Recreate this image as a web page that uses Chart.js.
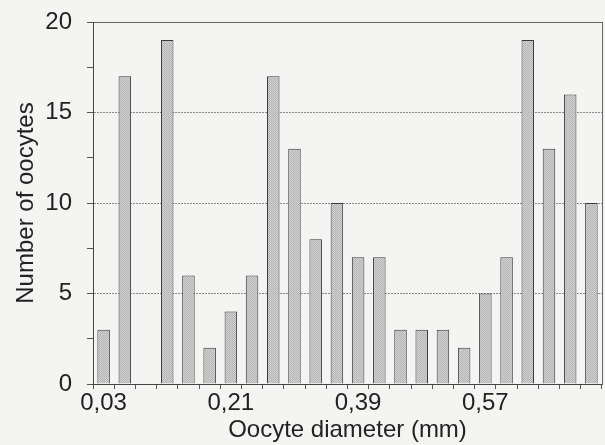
<!DOCTYPE html>
<html>
<head>
<meta charset="utf-8">
<script src="https://cdn.jsdelivr.net/npm/chart.js@4/dist/chart.umd.min.js"></script>
<style>
    html, body { margin: 0; padding: 0; background: #f4f4f2; }
    #wrap { width: 605px; height: 445px; }
</style>
</head>
<body>
<div id="wrap"><canvas id="chart-oocytes" width="605" height="445"></canvas></div>
<script>
// Data -------------------------------------
// --> Oocyte diameter classes (mm) and counts

const diameters = [0.03, 0.06, 0.09, 0.12, 0.15, 0.18, 0.21, 0.24, 0.27, 0.30, 0.33, 0.36,
                   0.39, 0.42, 0.45, 0.48, 0.51, 0.54, 0.57, 0.60, 0.63, 0.66, 0.69, 0.72]
const counts = [3, 17, 0, 19, 6, 2, 4, 6, 17, 13, 8, 10,
                7, 7, 3, 3, 3, 2, 5, 7, 19, 13, 16, 10]
const x_tick_labels = ['0,03', '0,21', '0,39', '0,57']
const y_tick_labels = [0, 5, 10, 15, 20]

// Style settings -------------------------------------

const color_text = '#222222'
const color_axis = '#444444'
const color_grid = '#8a8a8a'
const font_family = "'Liberation Sans', Arial, sans-serif"

// stippled grey fill like the printed bars
function bar_pattern() {
    const c = document.createElement('canvas')
    c.width = 2
    c.height = 2
    const g = c.getContext('2d')
    g.fillStyle = '#d0d0d0'
    g.fillRect(0, 0, 2, 2)
    g.fillStyle = '#b6b6b6'
    g.fillRect(0, 0, 1, 1)
    g.fillRect(1, 1, 1, 1)
    return g.createPattern(c, 'repeat')
}

// comma decimal like the original labels
function fmt(v) {
    return v.toFixed(2).replace('.', ',')
}

// Chart -------------------------------------

const labels = diameters.map(fmt)

const data = {
    labels: labels,
    datasets: [{
        label: 'Number of oocytes',
        data: counts,
        backgroundColor: bar_pattern(),
        borderColor: '#3a3a3a',
        borderWidth: 1,
        barPercentage: 0.59,
        categoryPercentage: 1.0,
    }]
}

const config = {
    type: 'bar',
    data: data,
    options: {
        responsive: false,
        animation: false,
        layout: {
            padding: { top: 0, right: 0, left: 0, bottom: 0 },
        },
        plugins: {
            legend: { display: false },
            tooltip: { enabled: false },
        },
        scales: {
            x: {
                offset: true,
                grid: {
                    display: true,
                    drawOnChartArea: false,
                    offset: true,
                    tickLength: 5,
                    tickColor: '#555555',
                },
                border: { color: color_axis, width: 1 },
                ticks: {
                    autoSkip: false,
                    maxRotation: 0,
                    padding: 0,
                    color: color_text,
                    font: { family: font_family, size: 24 },
                    callback: function (val, i) {
                        const lab = labels[i]
                        return x_tick_labels.includes(lab) ? lab : ''
                    },
                },
                title: {
                    display: true,
                    text: 'Oocyte diameter (mm)',
                    color: color_text,
                    padding: { top: 0, bottom: 0 },
                    font: { family: font_family, size: 24 },
                },
                // fixed band height so the plot bottom sits where the original does
                afterFit: function (scale) {
                    scale.height = 61
                },
            },
            y: {
                min: 0,
                max: 20,
                ticks: {
                    stepSize: 2.5,
                    padding: 15,
                    color: color_text,
                    font: { family: font_family, size: 24 },
                    callback: function (val) {
                        return y_tick_labels.includes(val) ? val : ''
                    },
                },
                grid: {
                    tickLength: 6,
                    tickColor: '#555555',
                    color: function (ctx) {
                        const v = ctx.tick.value
                        if (v === 0) return 'rgba(0,0,0,0)'
                        if (v === 20) return '#666666'
                        return y_tick_labels.includes(v) ? color_grid : 'rgba(0,0,0,0)'
                    },
                },
                border: {
                    color: color_axis,
                    width: 1,
                    dash: function (ctx) {
                        return ctx.tick && ctx.tick.value === 20 ? [] : [2, 1]
                    },
                },
                title: {
                    display: true,
                    text: 'Number of oocytes',
                    color: color_text,
                    padding: { top: 12, bottom: 0 },
                    font: { family: font_family, size: 24 },
                },
                // fixed width and top room (tick padding would otherwise push the plot down)
                afterFit: function (scale) {
                    scale.width = 93
                    scale.paddingTop = 22
                },
            },
            // right frame line only
            y_right: {
                position: 'right',
                grid: { display: false },
                ticks: { display: false },
                border: { color: '#666666', width: 1 },
                afterFit: function (scale) {
                    scale.width = 3
                },
            },
        },
    }
}

const context = document.getElementById('chart-oocytes').getContext('2d')
const chart = new Chart(context, config)
</script>
</body>
</html>
